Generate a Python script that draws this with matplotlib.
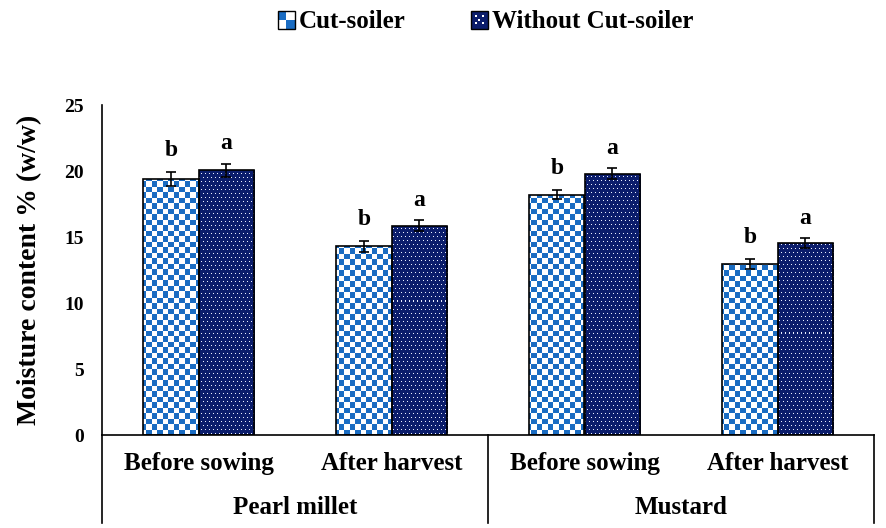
import numpy as np
import matplotlib.pyplot as plt
from matplotlib.patches import Rectangle
from matplotlib.legend_handler import HandlerBase

plt.rcParams['font.family'] = ['Liberation Serif', 'DejaVu Serif']
plt.rcParams['font.weight'] = 'bold'

# data
stages = ["Before sowing", "After harvest", "Before sowing", "After harvest"]
crops = ["Pearl millet", "Mustard"]
cut_soiler = [19.4, 14.3, 18.2, 12.95]
cut_soiler_err = [0.5, 0.4, 0.35, 0.35]
without_cut = [20.05, 15.85, 19.8, 14.55]
without_cut_err = [0.5, 0.4, 0.4, 0.35]
letters_cut = ["b", "b", "b", "b"]
letters_without = ["a", "a", "a", "a"]

blue = "#1a6cc2"
navy = "#0b1d6c"


def checker_img(w, h, cell=5.5):
    yy, xx = np.mgrid[0:h, 0:w]
    on = ((xx // cell + yy // cell) % 2).astype(bool)
    img = np.ones((h, w, 3))
    img[on] = np.array([0x1a, 0x6c, 0xc2]) / 255
    return img


def dots_img(w, h, step=4):
    yy, xx = np.mgrid[0:h, 0:w]
    img = np.zeros((h, w, 3))
    img[:] = np.array([0x0b, 0x1d, 0x6c]) / 255
    row = yy // step
    shift = (row % 2) * (step // 2)
    dot = ((yy % step) == 0) & (((xx + shift) % step) == 0)
    img[dot] = np.array([0.92, 0.94, 1.0])
    return img


class CheckerHandler(HandlerBase):
    def __init__(self, dark):
        super().__init__()
        self.dark = dark

    def create_artists(self, legend, orig_handle, xdescent, ydescent,
                       width, height, fontsize, trans):
        s = min(width, height)
        x0, y0 = -xdescent, -ydescent
        arts = []
        if self.dark:
            arts.append(Rectangle((x0, y0), s, s, facecolor=navy, edgecolor='black', lw=1, transform=trans))
            for dx, dy in [(0.3, 0.3), (0.7, 0.7), (0.3, 0.7), (0.7, 0.3), (0.5, 0.5)]:
                arts.append(Rectangle((x0 + dx * s - 0.7, y0 + dy * s - 0.7), 1.4, 1.4,
                                      facecolor='white', edgecolor='none', transform=trans))
        else:
            h = s / 2
            arts.append(Rectangle((x0, y0), s, s, facecolor='white', edgecolor='none', transform=trans))
            arts.append(Rectangle((x0, y0 + h), h, h, facecolor=blue, edgecolor='none', transform=trans))
            arts.append(Rectangle((x0 + h, y0), h, h, facecolor=blue, edgecolor='none', transform=trans))
            arts.append(Rectangle((x0, y0), s, s, facecolor='none', edgecolor='black', lw=1, transform=trans))
        return arts


fig = plt.figure(figsize=(8.86, 5.28), dpi=100)
ax = fig.add_axes([102 / 886, 93 / 528, 772 / 886, 330 / 528])

x = np.arange(len(stages))
w = 0.285
ax.set_xlim(-0.5, 3.5)
ax.set_ylim(0, 25)

pw, ph = 772, 330
cimg = checker_img(pw, ph)
dimg = dots_img(pw, ph)

bars_c = ax.bar(x - w / 2, cut_soiler, w, facecolor='none', edgecolor='black', lw=1.2, zorder=3)
bars_w = ax.bar(x + w / 2, without_cut, w, facecolor='none', edgecolor='black', lw=1.2, zorder=3)
for b in bars_c:
    im = ax.imshow(cimg, extent=(-0.5, 3.5, 0, 25), aspect='auto', interpolation='nearest', zorder=2)
    im.set_clip_path(b)
for b in bars_w:
    im = ax.imshow(dimg, extent=(-0.5, 3.5, 0, 25), aspect='auto', interpolation='nearest', zorder=2)
    im.set_clip_path(b)

ax.errorbar(x - w / 2, cut_soiler, yerr=cut_soiler_err, fmt='none', ecolor='black', elinewidth=1.2, capsize=3.5, capthick=1.2, zorder=4)
ax.errorbar(x + w / 2, without_cut, yerr=without_cut_err, fmt='none', ecolor='black', elinewidth=1.2, capsize=3.5, capthick=1.2, zorder=4)

for i in range(len(x)):
    ax.annotate(letters_cut[i], (x[i] - w / 2, cut_soiler[i] + cut_soiler_err[i]), xytext=(0, 8),
                textcoords='offset points', ha='center', va='bottom', fontsize=17, fontweight='bold')
    ax.annotate(letters_without[i], (x[i] + w / 2, without_cut[i] + without_cut_err[i]), xytext=(0, 7),
                textcoords='offset points', ha='center', va='bottom', fontsize=17, fontweight='bold')

ax.set_yticks(np.arange(0, 26, 5))
ax.tick_params(axis='y', length=0, pad=13, labelsize=14)
ax.set_xticks(x, stages)
ax.tick_params(axis='x', length=0, pad=12, labelsize=18)
for t in ax.get_xticklabels() + ax.get_yticklabels():
    t.set_fontweight('bold')

ax.spines['top'].set_visible(False)
ax.spines['right'].set_visible(False)
for s in ['left', 'bottom']:
    ax.spines[s].set_linewidth(1.2)

# group separator lines below the axis
ybot = -(523 - 435) / 330
for xs in [-0.5, 1.5, 3.5]:
    ax.plot([xs, xs], [0, ybot], color='black', lw=1.2, clip_on=False,
            transform=ax.get_xaxis_transform())

for j, crop in enumerate(crops):
    ax.text(2 * j + 0.5, -(507 - 435) / 330, crop, transform=ax.get_xaxis_transform(),
            ha='center', va='center', fontsize=18, fontweight='bold')

ax.set_ylabel("Moisture content % (w/w)", fontsize=20, fontweight='bold', labelpad=16)

h1 = Rectangle((0, 0), 1, 1)
h2 = Rectangle((0, 0), 1, 1)
fig.legend([h1, h2], ["Cut-soiler", "Without Cut-soiler"], loc='center',
           bbox_to_anchor=(0.548, 1 - 22 / 528), ncol=2, frameon=False,
           handler_map={h1: CheckerHandler(False), h2: CheckerHandler(True)},
           handlelength=0.7, handleheight=0.7, handletextpad=0.15, columnspacing=2.6,
           prop={'weight': 'bold', 'size': 18})

fig.savefig("out.png", dpi=100)
